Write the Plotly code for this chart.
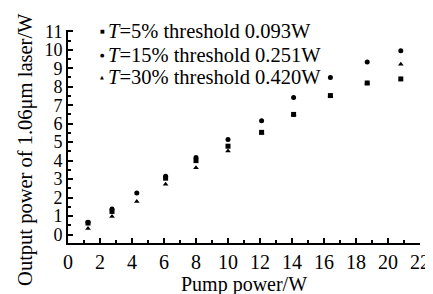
import plotly.graph_objects as go

pump = [1.25, 2.75, 4.3, 6.1, 8.0, 10.0, 12.1, 14.1, 16.4, 18.7, 20.8]
t5 = [0.62, 1.25, None, 3.05, 4.0, 4.78, 5.53, 6.5, 7.52, 8.2, 8.42]
t15 = [0.66, 1.38, 2.24, 3.15, 4.17, 5.14, 6.16, 7.41, 8.5, 9.34, 9.95]
t30 = [0.32, 0.97, 1.79, 2.72, 3.62, 4.52, 5.5, 6.5, 7.5, 8.2, 9.22]

names = ["<i>T</i>=5% threshold 0.093W",
         "<i>T</i>=15% threshold 0.251W",
         "<i>T</i>=30% threshold 0.420W"]
symbols = ["square", "circle", "triangle-up"]
legend_glyphs = ["■", "●", "▲"]
x_title = "Pump power/W"
y_title = "Output power of 1.06μm laser/W"

W, H = 433, 294
ML, MR, MT, MB = 60, 11, 22, 46
PW, PH = W - ML - MR, H - MT - MB

def px(x):
    return (x - ML) / PW

def py(y):
    return (H - MB - y) / PH

SERIF = "Liberation Serif, Times New Roman, serif"
font = dict(family=SERIF, size=20, color="black")

fig = go.Figure()
for ys, nm, sym in zip([t5, t15, t30], names, symbols):
    fig.add_trace(go.Scatter(x=pump, y=ys, mode="markers", name=nm,
                             marker=dict(symbol=sym, size=5, color="black")))

annotations = []
row_y = [23, 48, 72]
for ry, nm, g in zip(row_y, names, legend_glyphs):
    annotations.append(dict(xref="paper", yref="paper", x=px(95), y=py(ry),
                            text=g, showarrow=False, xanchor="center", yanchor="middle",
                            font=dict(family="DejaVu Sans", size=5, color="black")))
    annotations.append(dict(xref="paper", yref="paper", x=px(99), y=py(ry),
                            text=nm, showarrow=False, xanchor="left", yanchor="middle",
                            font=dict(family=SERIF, size=20.5, color="black")))
annotations.append(dict(xref="paper", yref="paper", x=px(17), y=py(149),
                        text=y_title, showarrow=False, textangle=-90,
                        xanchor="center", yanchor="middle",
                        font=dict(family=SERIF, size=20.5, color="black")))

fig.update_layout(
    width=W, height=H,
    margin=dict(l=ML, r=MR, t=MT, b=MB),
    paper_bgcolor="white", plot_bgcolor="white",
    font=font,
    showlegend=False,
    annotations=annotations,
)
fig.update_xaxes(range=[0, 22], dtick=2, tick0=0, showline=True, linecolor="black",
                 linewidth=2, ticks="inside", ticklen=5, tickwidth=1.5, tickcolor="black",
                 minor=dict(dtick=1, ticks="inside", ticklen=3, tickcolor="black"),
                 showgrid=False, zeroline=False, mirror=False,
                 tickfont=dict(family=SERIF, size=20, color="black"),
                 title=dict(text=x_title, font=font, standoff=4))
fig.update_yaxes(range=[-0.46, 11.07], tickvals=list(range(0, 12)), showline=True,
                 linecolor="black", linewidth=2, ticks="inside", ticklen=5, tickwidth=1.5,
                 tickcolor="black",
                 minor=dict(dtick=0.5, ticks="inside", ticklen=3, tickcolor="black"),
                 showgrid=False, zeroline=False, mirror=False,
                 tickfont=dict(family=SERIF, size=18, color="black"))

fig.write_html("out.html")
